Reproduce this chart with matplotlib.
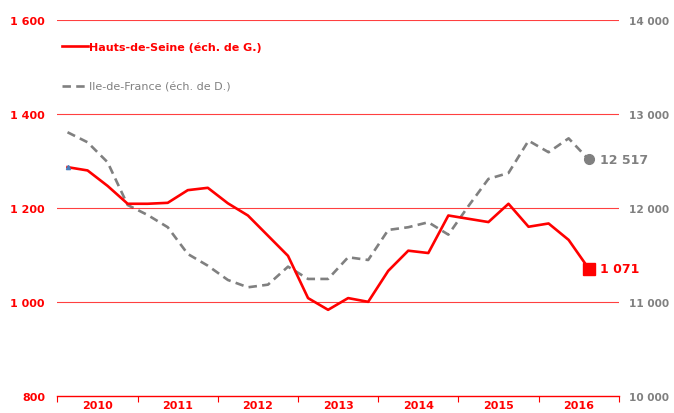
#! /usr/bin/env python3

'''
Hauts-de-Seine vs Ile-de-France, quarterly series 2010-2016, two y scales.
'''

import matplotlib
matplotlib.use('Agg')
import matplotlib.pyplot as plt
from matplotlib.ticker import FuncFormatter, FixedLocator

years = ['2010', '2011', '2012', '2013', '2014', '2015', '2016']
hauts_de_seine = [
    1287, 1280, 1247, 1209, 1209, 1211, 1238, 1243,
    1210, 1184, 1141, 1098, 1008, 983, 1008, 1000,
    1066, 1109, 1104, 1184, 1177, 1170, 1209, 1160,
    1167, 1132, 1071
]
ile_de_france = [
    12807, 12700, 12487, 12032, 11925, 11795, 11510, 11385,
    11233, 11155, 11183, 11375, 11244, 11244, 11475, 11446,
    11766, 11795, 11848, 11716, 12020, 12310, 12373, 12717,
    12594, 12742, 12517
]
label_hds = 'Hauts-de-Seine (éch. de G.)'
label_idf = 'Ile-de-France (éch. de D.)'
last_hds = '1 071'
last_idf = '12 517'

RED = '#ff0000'
GREY = '#808080'


def thousands(v, pos=None):
    return f'{int(round(v)):,}'.replace(',', ' ')


def main():
    plt.rcParams['font.family'] = ['DejaVu Sans']
    fig = plt.figure(figsize=(6.74, 4.14), dpi=100)
    ax = fig.add_axes([0.0853, 0.0418, 0.8327, 0.9068])
    ax2 = ax.twinx()

    xs = list(range(len(hauts_de_seine)))
    ax.set_xlim(-0.5, 4 * len(years) - 0.5)
    ax.set_ylim(800, 1600)
    ax2.set_ylim(10000, 14000)

    # grid
    for v in [1000, 1200, 1400, 1600]:
        ax.axhline(v, color=RED, lw=0.8, alpha=0.75, zorder=1)

    ax2.plot(xs, ile_de_france, color=GREY, lw=1.9, dashes=(3.2, 2.0),
             zorder=2)
    ax2.plot(xs[-1], ile_de_france[-1], 'o', color=GREY, ms=7, zorder=3)
    ax2.annotate(last_idf, (xs[-1], ile_de_france[-1]),
                 xytext=(8, 0), textcoords='offset points',
                 va='center', ha='left', color=GREY, fontsize=9,
                 fontweight='bold')

    ax.set_zorder(ax2.get_zorder() + 1)
    ax.patch.set_visible(False)
    ax.plot(xs, hauts_de_seine, color=RED, lw=1.9, zorder=3)
    ax.plot(xs[0], hauts_de_seine[0], '^', color='#4a7ebb', ms=3, zorder=4)
    ax.plot(xs[-1], hauts_de_seine[-1], 's', color=RED, ms=8, zorder=4)
    ax.annotate(last_hds, (xs[-1], hauts_de_seine[-1]),
                xytext=(8, 0), textcoords='offset points',
                va='center', ha='left', color=RED, fontsize=9,
                fontweight='bold')

    # axes styling
    for spine in 'left', 'right', 'top':
        ax.spines[spine].set_visible(False)
        ax2.spines[spine].set_visible(False)
    ax2.spines['bottom'].set_visible(False)
    ax.spines['bottom'].set_color(RED)
    ax.spines['bottom'].set_linewidth(1.0)

    ax.set_yticks([800, 1000, 1200, 1400, 1600])
    ax.yaxis.set_major_formatter(FuncFormatter(thousands))
    ax.tick_params(axis='y', length=0, pad=9, labelcolor=RED,
                   labelsize=8)
    for t in ax.get_yticklabels():
        t.set_fontweight('bold')

    ax2.set_yticks([10000, 11000, 12000, 13000, 14000])
    ax2.yaxis.set_major_formatter(FuncFormatter(thousands))
    ax2.tick_params(axis='y', length=0, pad=7.5, labelcolor=GREY,
                    labelsize=7.6)
    for t in ax2.get_yticklabels():
        t.set_fontweight('bold')

    bounds = [4 * i - 0.5 for i in range(len(years) + 1)]
    centers = [4 * i + 1.5 for i in range(len(years))]
    ax.xaxis.set_major_locator(FixedLocator(bounds))
    ax.xaxis.set_minor_locator(FixedLocator(centers))
    ax.set_xticklabels([], minor=False)
    ax.set_xticklabels(years, minor=True)
    ax.tick_params(axis='x', which='major', length=4, color=RED, width=0.8)
    ax.tick_params(axis='x', which='minor', length=0, pad=3,
                   labelcolor=RED, labelsize=8)
    for t in ax.get_xticklabels(minor=True):
        t.set_fontweight('bold')

    # legend
    h1, = ax.plot([], [], color=RED, lw=1.9)
    h2, = ax.plot([], [], color=GREY, lw=1.9, dashes=(3.2, 2.0))
    leg = ax.legend([h1, h2], [label_hds, label_idf], loc='upper left',
                    bbox_to_anchor=(0.0, 0.955), frameon=False,
                    handlelength=2.35, handletextpad=0.05, labelspacing=2.65,
                    borderaxespad=0.0, fontsize=8)
    texts = leg.get_texts()
    texts[0].set_color(RED)
    texts[0].set_fontweight('bold')
    texts[1].set_color(GREY)

    fig.savefig('out.png', dpi=100)


if __name__ == '__main__':
    main()
